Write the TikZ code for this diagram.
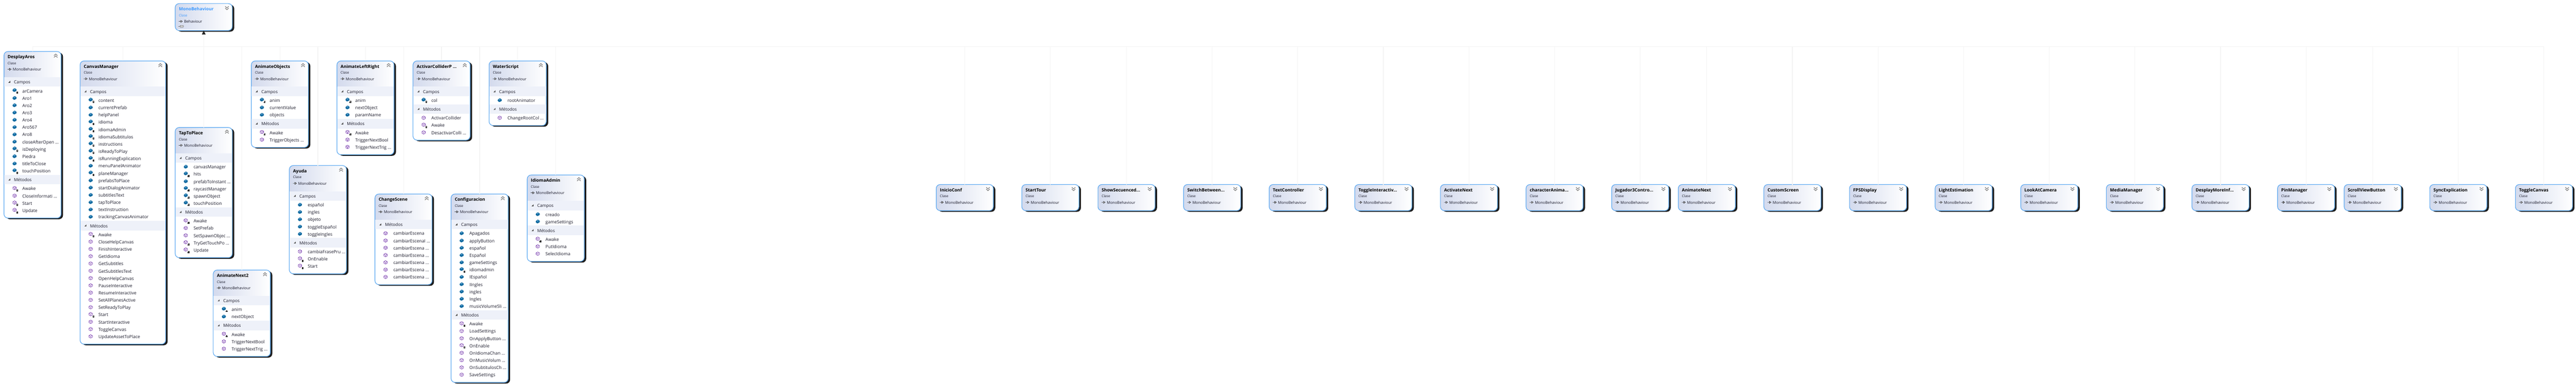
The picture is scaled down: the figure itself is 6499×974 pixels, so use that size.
\documentclass[tikz,border=0pt]{standalone}
\usepackage{fontspec}
\setmainfont{Open Sans}
\usetikzlibrary{arrows.meta,shadows}
\definecolor{boxline}{HTML}{5CA9F2}
\definecolor{headdark}{HTML}{D3DAED}
\definecolor{bandfill}{HTML}{EEF1F9}
\definecolor{shadowink}{HTML}{1E1E1E}
\definecolor{rowink}{HTML}{1A1A2A}
\definecolor{fieldblue}{HTML}{10699F}
\definecolor{fieldlight}{HTML}{5FA6D2}
\definecolor{cubeink}{HTML}{7B3FB0}
\definecolor{linkgray}{HTML}{F4F4F4}
\definecolor{monoblue}{HTML}{3F9BFF}
\colorlet{titleink}{black}
\colorlet{metaink}{rowink}
\def\boxwidth{144}
\tikzset{
  classbody/.style={anchor=north west,inner sep=0,outer sep=0,rounded corners=5pt,fill=white,
    general shadow={fill=shadowink,shadow xshift=2.5pt,shadow yshift=-1.5pt}},
  classborder/.style={draw=boxline,line width=0.75pt,rounded corners=5pt},
  titletext/.style={anchor=base west,inner sep=0,font=\fontsize{5.5}{6}\selectfont\bfseries,text=titleink},
  metatext/.style={anchor=base west,inner sep=0,font=\fontsize{4.3}{6}\selectfont,text=metaink},
  basetext/.style={anchor=base west,inner sep=0,font=\fontsize{4.8}{6}\selectfont,text=rowink},
  bandtext/.style={anchor=base west,inner sep=0,font=\fontsize{5.4}{6}\selectfont,text=rowink},
  rowtext/.style={anchor=base west,inner sep=0,font=\fontsize{5.55}{6}\selectfont,text=rowink},
  inheritline/.style={draw=linkgray,line width=0.75pt},
  pics/fieldicon/.style={code={
    \fill[fieldblue,rounded corners=0.5pt] (-5,-1)--(0,-5)--(5,-2)--(5,2)--(-1,5)--(-5,2)--cycle;
    \fill[fieldlight] (-2.5,-1.2)--(0,-3.2)--(2.5,-1.8)--(0,0)--cycle;}},
  pics/cubeicon/.style={code={
    \draw[cubeink,line width=0.5pt,line join=round] (0,-4.3)--(4.2,-2.1)--(4.2,2.1)--(0,4.3)--(-4.2,2.1)--(-4.2,-2.1)--cycle;
    \draw[cubeink,line width=0.35pt] (-4.2,-2.1)--(0,0)--(4.2,-2.1) (0,0)--(0,4.3);}},
  pics/lockmark/.style={code={
    \fill[black!80] (-2.3,-0.5) rectangle (2.3,2.8);
    \draw[black!80,line width=0.35pt] (-1.2,-0.5)--(-1.2,-2)--(1.2,-2)--(1.2,-0.5);}},
  pics/chevronup/.style={code={
    \draw[black!55,line width=0.65pt] (-4.5,-0.5)--(0,-4.5)--(4.5,-0.5) (-4.5,4)--(0,0)--(4.5,4);}},
  pics/chevrondown/.style={code={
    \draw[black!55,line width=0.65pt] (-4.5,-4)--(0,0)--(4.5,-4) (-4.5,0.5)--(0,4.5)--(4.5,0.5);}},
  pics/basemark/.style={code={
    \draw[black,line width=0.35pt,fill=white] (0,0)--(5,0) (5,-2.5)--(9,0)--(5,2.5)--cycle;}},
  pics/bandarrow/.style={code={
    \fill[black!70] (0,5)--(5,5)--(5,0)--cycle;}},
}
% #1 id, #2 x, #3 y, #4 height, #5 title, #6 base class, #7 chevron
\newcommand{\classshell}[7]{
  \node[classbody,minimum width={\boxwidth*0.5pt},minimum height={#4*0.5pt}] (#1) at (#2,#3) {};
  \begin{scope}
    \clip[rounded corners=5pt] (#2,#3) rectangle ++(\boxwidth,#4);
    \shade[left color=headdark,right color=white] (#2,#3) rectangle ++(\boxwidth,{min(#4,65)});
  \end{scope}
  \draw[classborder] (#1.north west) rectangle (#1.south east);
  \pic at (#2+\boxwidth-13.5,#3+11) {#7};
  \node[titletext] (#1title) at (#2+9,#3+17.7) {#5};
  \node[metatext] (#1kind) at (#2+9,#3+33) {Clase};
  \pic at (#2+9,#3+45) {basemark};
  \node[basetext] (#1base) at (#2+22,#3+49) {#6};
}
\newcommand{\classcard}[3]{\classshell{#1}{#2}{466}{66}{#3}{MonoBehaviour}{chevrondown}}
% #1 id, #2 x, #3 y, #4 title, #5 no. of fields, #6 no. of methods, #7 fields, #8 methods
\newcommand{\classfull}[8]{
  \pgfmathsetmacro{\fieldtop}{#3+65}
  \ifnum#5=0 \pgfmathsetmacro{\methodtop}{\fieldtop}
  \else \pgfmathsetmacro{\methodtop}{\fieldtop+34+(#5-1)*18.4+10.5} \fi
  \pgfmathsetmacro{\boxheight}{\methodtop+34+(#6-1)*18.4+19.5-#3}
  \classshell{#1}{#2}{#3}{\boxheight}{#4}{MonoBehaviour}{chevronup}
  \ifnum#5=0 \else
    \fill[bandfill] (#2+0.8,\fieldtop) rectangle (#2+\boxwidth-0.8,\fieldtop+24);
    \pic at (#2+11,\fieldtop+9) {bandarrow};
    \node[bandtext] (#1campos) at (#2+25,\fieldtop+16.7) {Campos};
    \foreach \lk/\txt [count=\i from 0] in {#7}{
      \pgfmathsetmacro{\rowy}{\fieldtop+34+\i*18.4}
      \ifnum\lk=1
        \pic at (#2+26.7,\rowy-1.5) {fieldicon};
        \pic at (#2+33.7,\rowy+4.5) {lockmark};
      \else
        \pic at (#2+26.7,\rowy) {fieldicon};
      \fi
      \node[rowtext] (#1f\i) at (#2+46,\rowy+5) {\txt};
    }
  \fi
  \fill[bandfill] (#2+0.8,\methodtop) rectangle (#2+\boxwidth-0.8,\methodtop+24);
  \pic at (#2+11,\methodtop+9) {bandarrow};
  \node[bandtext] (#1metodos) at (#2+25,\methodtop+16.7) {Métodos};
  \foreach \lk/\txt [count=\i from 0] in {#8}{
    \pgfmathsetmacro{\rowy}{\methodtop+34+\i*18.4}
    \ifnum\lk=1
      \pic at (#2+26.7,\rowy-1) {cubeicon};
      \pic at (#2+33.7,\rowy+5) {lockmark};
    \else
      \pic at (#2+26.7,\rowy) {cubeicon};
    \fi
    \node[rowtext] (#1m\i) at (#2+46,\rowy+5) {\txt};
  }
}
\begin{document}
\begin{tikzpicture}[x=0.5pt,y=-0.5pt]
  \useasboundingbox (0,0) rectangle (6499,974);
  \begin{scope}
    \colorlet{titleink}{monoblue}
    \colorlet{metaink}{monoblue}
    \classshell{monoBehaviour}{442}{9}{68}{MonoBehaviour}{Behaviour}{chevrondown}
  \end{scope}
  \fill[black!20,draw=black!60,line width=0.3pt,rounded corners=0.8pt] (454,64) rectangle (463,69);
  \draw[black!50,line width=0.3pt] (450,66.5)--(454,66.5);
  \coordinate (trunk) at (514,117.5);

  \classfull{desplayAros}{10}{130}{DesplayAros}{12}{4}
    {1/arCamera,0/Aro1,0/Aro2,0/Aro3,0/Aro4,0/Aro567,0/Aro8,0/closeAfterOpen \ldots,1/isDeploying,0/Piedra,0/titleToClose,1/touchPosition}
    {1/Awake,0/CloseInformati \ldots,1/Start,1/Update}
  \begin{scope}
    \def\boxwidth{216}
    \classfull{canvasManager}{202}{154}{CanvasManager}{17}{15}
      {1/content,0/currentPrefab,0/helpPanel,1/idioma,1/idiomaAdmin,1/idiomaSubtitulos,1/instructions,1/isReadyToPlay,1/isRunningExplication,0/menuPanelAnimator,1/planeManager,0/prefabsToPlace,0/startDialogAnimator,0/subtitlesText,0/tapToPlace,0/textInstruction,0/trackingCanvasAnimator}
      {1/Awake,0/CloseHelpCanvas,0/FinishInteractive,0/GetIdioma,0/GetSubtitles,0/GetSubtitlesText,0/OpenHelpCanvas,0/PauseInteractive,0/ResumeInteractive,0/SetAllPlanesActive,0/SetReadyToPlay,1/Start,0/StartInteractive,0/ToggleCanvas,0/UpdateAssetToPlace}
  \end{scope}
  \classfull{tapToPlace}{442}{322}{TapToPlace}{6}{5}
    {0/canvasManager,1/hits,0/prefabToInstant \ldots,1/raycastManager,1/spawnObject,1/touchPosition}
    {1/Awake,0/SetPrefab,0/SetSpawnObjec \ldots,1/TryGetTouchPo \ldots,1/Update}
  \classfull{animateNext2}{538}{682}{AnimateNext2}{2}{3}
    {1/anim,0/nextObject}
    {1/Awake,0/TriggerNextBool,0/TriggerNextTrig \ldots}
  \classfull{animateObjects}{634}{154}{AnimateObjects}{3}{2}
    {1/anim,0/currentValue,0/objects}
    {1/Awake,0/TriggerObjects \ldots}
  \classfull{ayuda}{730}{418}{Ayuda}{5}{3}
    {0/español,0/ingles,0/objeto,0/toggleEspañol,0/toggleIngles}
    {0/cambiaFrasePru \ldots,1/OnEnable,1/Start}
  \classfull{animateLeftRight}{850}{154}{AnimateLeftRight}{3}{3}
    {1/anim,0/nextObject,0/paramName}
    {1/Awake,0/TriggerNextBool,0/TriggerNextTrig \ldots}
  \classfull{changeScene}{946}{490}{ChangeScene}{0}{7}
    {}
    {0/cambiarEscena,0/cambiarEscenaI \ldots,0/cambiarEscena \ldots,0/cambiarEscena \ldots,0/cambiarEscena \ldots,0/cambiarEscena \ldots,0/cambiarEscena \ldots}
  \classfull{activarCollider}{1042}{154}{ActivarColliderP \ldots}{1}{3}
    {1/col}
    {0/ActivarCollider,1/Awake,0/DesactivarColli \ldots}
  \classfull{configuracion}{1138}{490}{Configuracion}{11}{8}
    {0/Apagados,0/applyButton,0/español,0/Español,0/gameSettings,1/idiomadmin,0/IEspañol,0/IIngles,0/ingles,0/Ingles,0/musicVolumeSli \ldots}
    {1/Awake,0/LoadSettings,0/OnApplyButton \ldots,1/OnEnable,0/OnIdiomaChan \ldots,0/OnMusicVolum \ldots,0/OnSubtitulosCh \ldots,0/SaveSettings}
  \classfull{waterScript}{1234}{154}{WaterScript}{1}{1}
    {0/rootAnimator}
    {0/ChangeRootCol \ldots}
  \classfull{idiomaAdmin}{1330}{442}{IdiomaAdmin}{2}{3}
    {0/creado,0/gameSettings}
    {1/Awake,0/PutIdioma,0/SelecIdioma}

  % cards in a row
  \classcard{inicioConf}{2362}{InicioConf}
  \classcard{startTour}{2578}{StartTour}
  \classcard{showSecuenced}{2770}{ShowSecuenced...}
  \classcard{switchBetween}{2986}{SwitchBetween...}
  \classcard{textController}{3202}{TextController}
  \classcard{toggleInteractiv}{3418}{ToggleInteractiv...}
  \classcard{activateNext}{3634}{ActivateNext}
  \classcard{characterAnima}{3850}{characterAnima...}
  \classcard{jugador3}{4066}{Jugador3Contro...}
  \classcard{animateNext}{4234}{AnimateNext}
  \classcard{customScreen}{4450}{CustomScreen}
  \classcard{fpsDisplay}{4666}{FPSDisplay}
  \classcard{lightEstimation}{4882}{LightEstimation}
  \classcard{lookAtCamera}{5098}{LookAtCamera}
  \classcard{mediaManager}{5314}{MediaManager}
  \classcard{desplayMoreInf}{5530}{DesplayMoreInf...}
  \classcard{pinManager}{5746}{PinManager}
  \classcard{scrollViewButton}{5914}{ScrollViewButton}
  \classcard{syncExplication}{6130}{SyncExplication}
  \classcard{toggleCanvas}{6346}{ToggleCanvas}

  \foreach \kid in {desplayAros,canvasManager,tapToPlace,animateNext2,animateObjects,ayuda,animateLeftRight,changeScene,activarCollider,configuracion,waterScript,idiomaAdmin,inicioConf,startTour,showSecuenced,switchBetween,textController,toggleInteractiv,activateNext,characterAnima,jugador3,animateNext,customScreen,fpsDisplay,lightEstimation,lookAtCamera,mediaManager,desplayMoreInf,pinManager,scrollViewButton,syncExplication,toggleCanvas}
    \draw[inheritline] (\kid.north) |- (trunk);
  \draw[inheritline,-{Triangle[length=5pt,width=4.5pt,color=black!85]}] (trunk) -- (monoBehaviour.south);
\end{tikzpicture}
\end{document}
